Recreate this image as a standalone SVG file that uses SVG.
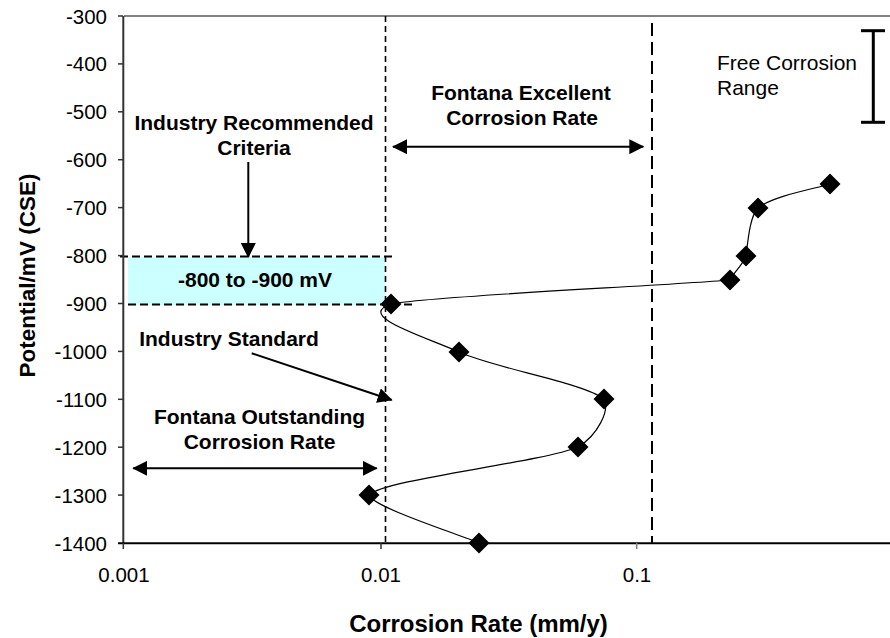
<svg xmlns="http://www.w3.org/2000/svg" width="890" height="638" viewBox="0 0 890 638">
<defs>
<style>
text{font-family:"Liberation Sans",Arial,sans-serif;fill:#000}
.tick{font-size:20.5px}
.ylab{text-anchor:end}
.xlab{text-anchor:middle}
.b{font-weight:bold;font-size:21px;text-anchor:middle}
.title{font-weight:bold;text-anchor:middle}
.reg{font-size:21px}
.arrow{stroke:#000;stroke-width:2;fill:none}
.curve{stroke:#000;stroke-width:1.2;fill:none}
</style>
<marker id="ah" viewBox="0 0 15 15" refX="14" refY="7.5" markerWidth="15" markerHeight="15" markerUnits="userSpaceOnUse" orient="auto-start-reverse">
<path d="M0,0 L15,7.5 L0,15 z" fill="#000"/>
</marker>
<path id="dm" d="M0,-10.5 L10.5,0 L0,10.5 L-10.5,0 z" fill="#000"/>
</defs>
<rect width="890" height="638" fill="#fff"/>

<g id="highlight-band">
<rect x="128" y="257" width="257" height="48" fill="#ccffff"/>
<line x1="120" y1="256.5" x2="393" y2="256.5" stroke="#000" stroke-width="2" stroke-dasharray="8,4"/>
<line x1="128" y1="304.5" x2="416" y2="304.5" stroke="#000" stroke-width="2" stroke-dasharray="8,4"/>
<text class="b" x="255" y="287">-800 to -900 mV</text>
</g>

<g id="axes">
<line x1="124" y1="16" x2="890" y2="16" stroke="#808080" stroke-width="2"/>
<line x1="123.3" y1="16" x2="123.3" y2="543.5" stroke="#333" stroke-width="2"/>
<line x1="118" y1="543.3" x2="890" y2="543.3" stroke="#000" stroke-width="2"/>
<g stroke="#333" stroke-width="1.5">
<line x1="118" y1="16" x2="123" y2="16"/>
<line x1="118" y1="63.9" x2="123" y2="63.9"/>
<line x1="118" y1="111.8" x2="123" y2="111.8"/>
<line x1="118" y1="159.7" x2="123" y2="159.7"/>
<line x1="118" y1="207.6" x2="123" y2="207.6"/>
<line x1="118" y1="255.6" x2="123" y2="255.6"/>
<line x1="118" y1="303.5" x2="123" y2="303.5"/>
<line x1="118" y1="351.4" x2="123" y2="351.4"/>
<line x1="118" y1="399.3" x2="123" y2="399.3"/>
<line x1="118" y1="447.2" x2="123" y2="447.2"/>
<line x1="118" y1="495.1" x2="123" y2="495.1"/>
<line x1="123.3" y1="543" x2="123.3" y2="549"/>
<line x1="381" y1="543" x2="381" y2="549"/>
<line x1="636.7" y1="543" x2="636.7" y2="549" stroke="#808080"/>
</g>
<g class="tick ylab">
<text class="tick ylab" x="107" y="23.5">-300</text>
<text class="tick ylab" x="107" y="71.4">-400</text>
<text class="tick ylab" x="107" y="119.3">-500</text>
<text class="tick ylab" x="107" y="167.2">-600</text>
<text class="tick ylab" x="107" y="215.1">-700</text>
<text class="tick ylab" x="107" y="263.1">-800</text>
<text class="tick ylab" x="107" y="311">-900</text>
<text class="tick ylab" x="107" y="358.9">-1000</text>
<text class="tick ylab" x="107" y="406.8">-1100</text>
<text class="tick ylab" x="107" y="454.7">-1200</text>
<text class="tick ylab" x="107" y="502.6">-1300</text>
<text class="tick ylab" x="107" y="550.5">-1400</text>
</g>
<text class="tick xlab" x="124" y="581.5">0.001</text>
<text class="tick xlab" x="381" y="581.5">0.01</text>
<text class="tick xlab" x="637" y="581.5">0.1</text>
<text class="title" x="478.5" y="631.5" font-size="24">Corrosion Rate (mm/y)</text>
<text class="title" transform="translate(35,275.5) rotate(-90)" font-size="22.5">Potential/mV (CSE)</text>
</g>

<g id="thresholds">
<line x1="385.5" y1="16" x2="385.5" y2="543" stroke="#000" stroke-width="1.6" stroke-dasharray="6,4"/>
<line x1="652" y1="23" x2="652" y2="543" stroke="#000" stroke-width="2" stroke-dasharray="13,6"/>
</g>

<g id="data-series">
<path class="curve" d="M830,184 C818,188 772,196 758,208 C750,216 748,240 746,256 C742,266 734,272 730,280 C660,286 430,296 391,304 C355,316 423,336 459,352 C494,368 584,383 604,399 C610,410 598,435 578,447 C539,463 385,479 369,495 C372,507 461,535 479,543"/>
<use href="#dm" x="830" y="184"/>
<use href="#dm" x="758" y="208"/>
<use href="#dm" x="746" y="256"/>
<use href="#dm" x="730" y="280"/>
<use href="#dm" x="391" y="304"/>
<use href="#dm" x="459" y="352"/>
<use href="#dm" x="604" y="399"/>
<use href="#dm" x="578" y="447"/>
<use href="#dm" x="369" y="495"/>
<use href="#dm" x="479" y="543"/>
</g>

<g id="label-recommended">
<text class="b" x="254" y="129.5">Industry Recommended</text>
<text class="b" x="254" y="154.5">Criteria</text>
</g>
<g id="label-excellent">
<text class="b" x="521" y="100">Fontana Excellent</text>
<text class="b" x="522" y="125">Corrosion Rate</text>
</g>
<g id="label-standard">
<text class="b" x="229" y="345.5">Industry Standard</text>
</g>
<g id="label-outstanding">
<text class="b" x="259.5" y="424">Fontana Outstanding</text>
<text class="b" x="259.5" y="449.3">Corrosion Rate</text>
</g>
<g id="label-free">
<text class="reg" x="717" y="70">Free Corrosion</text>
<text class="reg" x="717" y="94.5">Range</text>
<g stroke="#000" stroke-width="3" fill="none">
<line x1="873.3" y1="30.7" x2="873.3" y2="122.3"/>
<line x1="861" y1="30.7" x2="885" y2="30.7"/>
<line x1="861" y1="122.3" x2="885" y2="122.3"/>
</g>
</g>

<g id="connectors">
<line class="arrow" x1="248.3" y1="162" x2="248.3" y2="257" marker-end="url(#ah)"/>
<line class="arrow" x1="393" y1="146.7" x2="643.3" y2="146.7" marker-start="url(#ah)" marker-end="url(#ah)"/>
<line class="arrow" x1="251.7" y1="353.3" x2="391.7" y2="400" marker-end="url(#ah)"/>
<line class="arrow" x1="133.3" y1="468.3" x2="376.7" y2="468.3" marker-start="url(#ah)" marker-end="url(#ah)"/>
</g>
</svg>
